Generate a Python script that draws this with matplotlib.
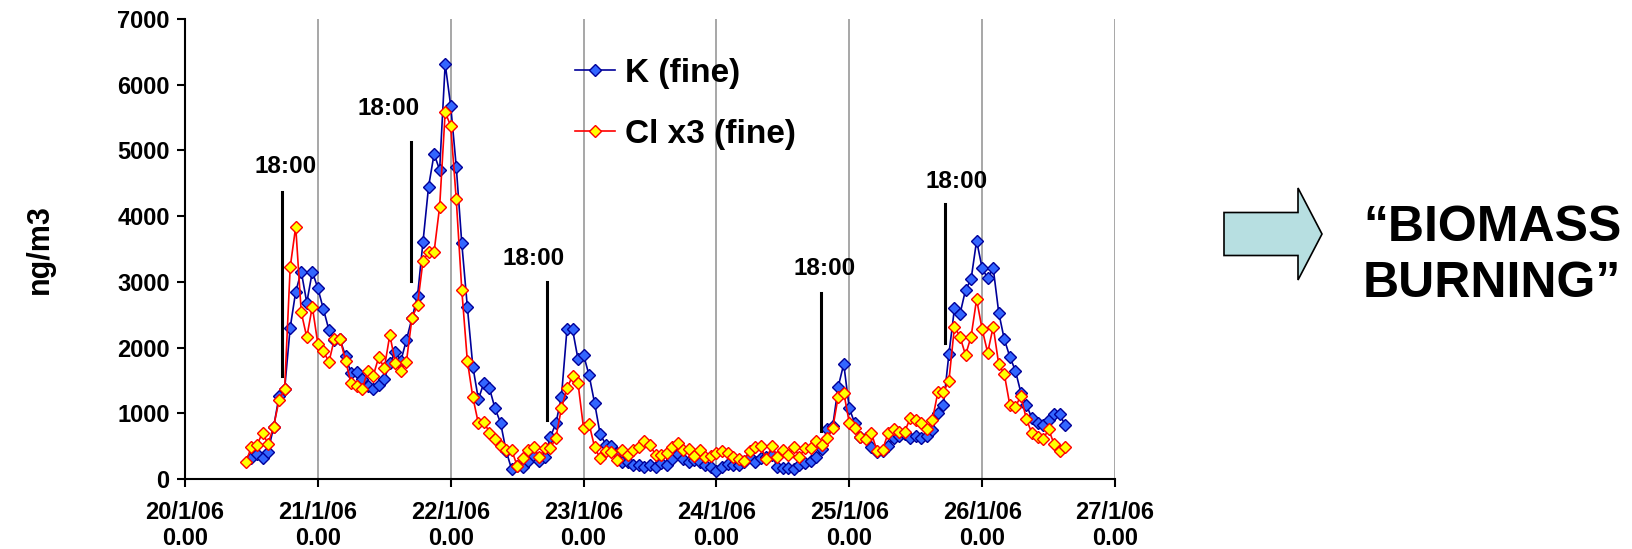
import numpy as np
import pandas as pd
import matplotlib
matplotlib.use("Agg")
import matplotlib.pyplot as plt
from matplotlib.patches import Polygon

plt.rcParams['font.family'] = ['Liberation Sans', 'DejaVu Sans']
plt.rcParams['font.weight'] = 'bold'

# hourly samples, 20/1/06 11:00 -> 26/1/06 15:00
start_time = '2006-01-20 11:00'

k_fine = [
    np.nan, 315, 380, 315, 416, 787, 1263, 1370, 2303, 2851, 3156, 2684, 3156,
    2902, 2583, 2268, 2116, 2126, 1872, 1609, 1634, 1517, 1420, 1370, 1431, 1527,
    1761, 1938, 1800, 2116, 2450, 2780, 3612, 4449, 4947, 4703, 6317, 5677, 4754,
    3587, 2623, 1710, 1213, 1466, 1380, 1076, 857, 430, 150, 200, 183, 279, 345,
    279, 330, 640, 847, 1250, 2278, 2278, 1822, 1887, 1578, 1152, 683, 525, 495,
    400, 264, 264, 213, 213, 188, 213, 178, 240, 218, 300, 380, 300, 264, 290,
    264, 213, 188, 127, 188, 223, 213, 213, 264, 340, 264, 315, 340, 360, 188,
    162, 162, 152, 213, 238, 274, 330, 450, 760, 800, 1405, 1750, 1076, 847, 644,
    619, 492, 416, 420, 500, 620, 660, 690, 620, 660, 620, 650, 746, 1000, 1126,
    1903, 2598, 2511, 2877, 3039, 3627, 3207, 3055, 3207, 2531, 2126, 1862, 1649,
    1314, 1126, 923, 847, 816, 900, 989, 989, 817,
]

cl_x3_fine = [
    254, 492, 517, 705, 533, 796, 1202, 1370, 3222, 3840, 2537, 2157, 2623,
    2055, 1943, 1781, 2136, 2136, 1801, 1456, 1415, 1365, 1644, 1568, 1857, 1685,
    2192, 1770, 1649, 1786, 2446, 2648, 3323, 3450, 3460, 4145, 5581, 5373, 4257,
    2877, 1801, 1243, 847, 870, 705, 604, 502, 441, 441, 203, 315, 441, 482,
    330, 467, 467, 629, 1076, 1380, 1568, 1456, 771, 837, 482, 315, 426, 416,
    289, 441, 360, 441, 492, 573, 518, 365, 360, 400, 482, 543, 441, 452, 350,
    441, 340, 350, 400, 431, 400, 330, 300, 279, 431, 482, 502, 300, 502, 340,
    441, 365, 482, 340, 467, 467, 583, 518, 619, 771, 1253, 1314, 857, 771, 644,
    604, 695, 431, 441, 695, 756, 720, 720, 923, 898, 847, 760, 893, 1320, 1320,
    1497, 2318, 2166, 1887, 2166, 2735, 2278, 1923, 2318, 1745, 1598, 1126, 1100,
    1263, 908, 695, 634, 604, 756, 533, 431, 492,
]

tick_labels = ['20/1/06\n0.00', '21/1/06\n0.00', '22/1/06\n0.00', '23/1/06\n0.00',
               '24/1/06\n0.00', '25/1/06\n0.00', '26/1/06\n0.00', '27/1/06\n0.00']

# "18:00" markers: line position, line bottom/top, label position
mark_x = ['2006-01-20 17:30', '2006-01-21 16:45', '2006-01-22 17:27',
          '2006-01-24 18:50', '2006-01-25 17:17']
mark_lo = [1572, 3018, 898, 735, 2075]
mark_hi = [4373, 5125, 3003, 2836, 4186]
label_x = ['2006-01-20 18:07', '2006-01-21 12:50', '2006-01-22 14:53',
           '2006-01-24 19:36', '2006-01-25 19:24']
label_y = [4756, 5631, 3349, 3207, 4525]

times = pd.date_range(start_time, periods=len(cl_x3_fine), freq='h')
days = pd.date_range('2006-01-20', '2006-01-27', freq='D')

W, H = 1632, 549
fig = plt.figure(figsize=(W / 100, H / 100), dpi=100)
ax = fig.add_axes([185 / W, 70 / H, 930 / W, 460 / H])

ax.plot(times, k_fine, color='#000099', lw=1.2, marker='D', ms=5.8,
        mfc='#3366ff', mec='#000099', mew=1.0, label='K (fine)', zorder=3)
ax.plot(times, cl_x3_fine, color='#ff0000', lw=1.2, marker='D', ms=5.8,
        mfc='#ffff00', mec='#ff0000', mew=1.0, label='Cl x3 (fine)', zorder=4)

for i in range(len(mark_x)):
    ax.plot([pd.Timestamp(mark_x[i])] * 2, [mark_lo[i], mark_hi[i]],
            color='black', lw=2.2, zorder=5)
    ax.text(pd.Timestamp(label_x[i]), label_y[i], '18:00', fontsize=17.5,
            fontweight='bold', ha='center', va='center')

ax.set_xlim(days[0], days[-1])
ax.set_ylim(0, 7000)
ax.set_xticks(days)
ax.set_xticklabels(tick_labels, fontsize=17, linespacing=1.18)
ax.set_yticks(np.arange(0, 7001, 1000))
ax.tick_params(axis='y', labelsize=17, length=6, width=1.5, direction='out', pad=5)
ax.tick_params(axis='x', length=6, width=1.5, direction='out', pad=10)
for lab in ax.get_xticklabels() + ax.get_yticklabels():
    lab.set_fontweight('bold')

ax.grid(axis='x', color='#a0a0a0', lw=1.3)
ax.set_axisbelow(True)
for s in ['top', 'right']:
    ax.spines[s].set_visible(False)
for s in ['left', 'bottom']:
    ax.spines[s].set_linewidth(1.5)

ax.set_ylabel('ng/m3', fontsize=22, fontweight='bold')
ax.yaxis.set_label_coords(-0.14, 0.5)

leg = ax.legend(loc='center left', bbox_to_anchor=(0.387, 0.816), frameon=False,
                numpoints=1, handlelength=1.2, handletextpad=0.3,
                labelspacing=0.9, prop={'size': 24, 'weight': 'bold'})

# arrow + caption on the right, in figure pixels
cy = 234
arrow_px = [(1224, cy - 21.5), (1298, cy - 21.5), (1298, cy - 46), (1322, cy),
            (1298, cy + 46), (1298, cy + 21.5), (1224, cy + 21.5)]
arrow = Polygon([(x / W, 1 - y / H) for x, y in arrow_px], closed=True,
                transform=fig.transFigure, facecolor='#b7dfe1',
                edgecolor='black', lw=1.2)
fig.patches.append(arrow)
fig.text(1363 / W, 1 - 256 / H, '\u201cBIOMASS\nBURNING\u201d', fontsize=36,
         fontweight='bold', ha='left', va='center', linespacing=1.28)

fig.savefig('out.png', dpi=100)
